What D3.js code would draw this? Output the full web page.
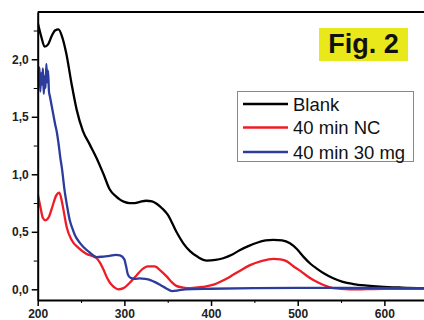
<!DOCTYPE html>
<html>
<head>
<meta charset="utf-8">
<script src="https://cdn.jsdelivr.net/npm/d3@7"></script>
<style>
  body { margin: 0; background: #fff; }
  svg { display: block; font-family: Arial, "Liberation Sans", sans-serif; }
  .axis text { font-weight: bold; font-size: 12px; fill: #222; }
  .axis path, .axis line { stroke: #000; }
</style>
</head>
<body>
<div id="chart"></div>
<script>
// absorbance spectra (wavelength nm, absorbance)
var blankWl = [200,204,208,212,216,220,224,228,233,239,245,252,260,268,276,283,290,295,300,306,312,318,325,332,338,344,350,360,368,376,385,395,405,414,424,433,443,453,463,472,482,491,499,507,515,522,532,541,552,564,580,595,620,650];
var blankAbs = [2.32,2.20,2.11,2.13,2.20,2.25,2.26,2.20,2.05,1.79,1.56,1.38,1.26,1.14,1.00,0.87,0.81,0.78,0.76,0.75,0.75,0.76,0.77,0.765,0.74,0.70,0.65,0.50,0.40,0.33,0.28,0.25,0.255,0.27,0.30,0.34,0.375,0.405,0.425,0.43,0.425,0.40,0.35,0.28,0.22,0.18,0.13,0.096,0.065,0.046,0.032,0.023,0.015,0.01];

var ncWl = [200,203,206,209,213,217,221,225,228,230,233.5,239,247,256,268,272,276,280,284,288,293,299,304,309,314,320,327,335,342,349,355,360,368,376,390,403,412,422,433,445,458,472,480,487,495,503,510,518,526,534,541,560,600,650];
var ncAbs = [0.83,0.72,0.62,0.60,0.63,0.72,0.81,0.84,0.76,0.68,0.54,0.43,0.36,0.31,0.27,0.23,0.17,0.10,0.05,0.02,0.0,0.01,0.04,0.08,0.12,0.17,0.20,0.20,0.16,0.11,0.06,0.03,0.015,0.01,0.02,0.04,0.07,0.11,0.16,0.21,0.245,0.265,0.26,0.245,0.20,0.16,0.12,0.08,0.05,0.025,0.01,0.0,0.005,0.005];

var mgWl = [200,201,202,203,204,205,206,207,208,209,210,211,212,213,214,216,218,220,222,224,226,228,231,234,237,240,243,248,253,260,268,276,283,290,295,300,302,304,307,312,318,324,330,336,342,348,355,362,370,400,450,500,550,650];
var mgAbs = [1.90,1.80,1.93,1.72,1.88,1.78,1.92,1.70,1.85,1.75,1.96,1.80,1.90,1.72,1.68,1.60,1.52,1.44,1.37,1.27,1.15,1.05,0.86,0.72,0.60,0.53,0.47,0.41,0.365,0.32,0.28,0.285,0.29,0.30,0.295,0.26,0.20,0.13,0.10,0.09,0.095,0.09,0.08,0.06,0.035,0.01,-0.015,-0.01,0.0,0.005,0.01,0.012,0.012,0.01];

var seriesNames = ["Blank", "40 min NC", "40 min 30 mg"];
var seriesColors = ["#000000", "#ee1d25", "#2c3c9c"];
var xTicks = [200, 300, 400, 500, 600];
var yTicks = [0, 0.5, 1.0, 1.5, 2.0];

var W = 424, H = 320;
var mLeft = 37.7, mTop = 12, mBottom = 300;

var x = d3.scaleLinear().domain([200, 650]).range([mLeft, mLeft + 450 * 0.8667]);
var y = d3.scaleLinear().domain([-0.093, 2.411]).range([mBottom, mTop]);

var svg = d3.select("#chart").append("svg")
    .attr("width", W)
    .attr("height", H);

svg.append("defs").append("clipPath").attr("id", "plot")
  .append("rect")
    .attr("x", mLeft).attr("y", mTop)
    .attr("width", x(650) - mLeft).attr("height", mBottom - mTop);

// data lines
var line = d3.line()
    .x(function(d) { return x(d[0]); })
    .y(function(d) { return y(d[1]); })
    .curve(d3.curveMonotoneX);

var series = [
  d3.zip(blankWl, blankAbs),
  d3.zip(ncWl, ncAbs),
  d3.zip(mgWl, mgAbs)
];

svg.append("g").attr("clip-path", "url(#plot)")
  .selectAll("path")
  .data(series)
  .enter().append("path")
    .attr("d", line)
    .attr("fill", "none")
    .attr("stroke", function(d, i) { return seriesColors[i]; })
    .attr("stroke-width", 2.3)
    .attr("stroke-linejoin", "round");

// minor ticks
svg.append("g")
    .attr("class", "axis")
    .attr("transform", "translate(0," + mBottom + ")")
    .call(d3.axisBottom(x).tickValues([250, 350, 450, 550, 650]).tickSize(3).tickFormat(""))
    .call(function(g) { g.select(".domain").remove(); });
svg.append("g")
    .attr("class", "axis")
    .attr("transform", "translate(" + mLeft + ",0)")
    .call(d3.axisLeft(y).tickValues([0.25, 0.75, 1.25, 1.75, 2.25]).tickSize(4).tickFormat(""))
    .call(function(g) { g.select(".domain").remove(); });

// major axes
var fmt = function(d) { return d3.format(".1f")(d).replace(".", ","); };

svg.append("g")
    .attr("class", "axis")
    .attr("transform", "translate(0," + mBottom + ")")
    .call(d3.axisBottom(x).tickValues(xTicks).tickSize(6).tickSizeOuter(0).tickPadding(3))
    .call(function(g) { g.select(".domain").attr("stroke-width", 2); })
    .selectAll("line").attr("stroke-width", 1.5);

svg.append("g")
    .attr("class", "axis")
    .attr("transform", "translate(" + mLeft + ",0)")
    .call(d3.axisLeft(y).tickValues(yTicks).tickSize(6).tickSizeOuter(0).tickPadding(3).tickFormat(fmt))
    .call(function(g) { g.select(".domain").attr("stroke-width", 2); })
    .selectAll("line").attr("stroke-width", 1.5);

// top frame line
svg.append("line")
    .attr("x1", mLeft).attr("x2", W)
    .attr("y1", mTop).attr("y2", mTop)
    .attr("stroke", "#000").attr("stroke-width", 2);

// Fig. 2 label
svg.append("rect")
    .attr("x", 319).attr("y", 28)
    .attr("width", 89).attr("height", 33)
    .attr("fill", "#e8e81a");
svg.append("text")
    .attr("x", 363.5).attr("y", 53)
    .attr("text-anchor", "middle")
    .attr("font-weight", "bold")
    .attr("font-size", "27px")
    .attr("fill", "#111")
    .text("Fig. 2");

// legend
var legend = svg.append("g");
legend.append("rect")
    .attr("x", 237.5).attr("y", 91.5)
    .attr("width", 176).attr("height", 70)
    .attr("fill", "#fff")
    .attr("stroke", "#888").attr("stroke-width", 1);

var rows = legend.selectAll("g.row")
    .data(seriesNames)
  .enter().append("g")
    .attr("class", "row")
    .attr("transform", function(d, i) { return "translate(0," + [104, 127.5, 152][i] + ")"; });

rows.append("line")
    .attr("x1", 243).attr("x2", 288)
    .attr("stroke", function(d, i) { return seriesColors[i]; })
    .attr("stroke-width", 2.3);

rows.append("text")
    .attr("x", 293).attr("y", 6.5)
    .attr("font-size", "18.5px")
    .attr("fill", "#111")
    .text(function(d) { return d; });
</script>
</body>
</html>
